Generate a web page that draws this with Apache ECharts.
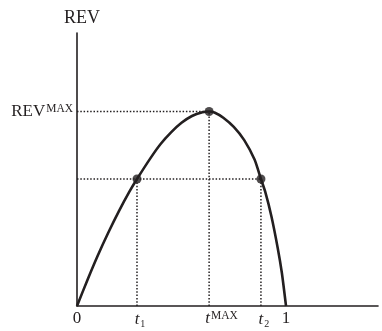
<!DOCTYPE html>
<html>
<head>
<meta charset="utf-8">
<script src="https://cdn.jsdelivr.net/npm/echarts@6/dist/echarts.min.js"></script>
<style>
  html, body { margin: 0; padding: 0; background: #fff; }
  #chart { width: 382px; height: 331px; }
</style>
</head>
<body>
<div id="chart"></div>
<script>
// Revenue curve: tax rate t (0..1) against revenue, REV^MAX scaled to 1
const curveT   = [0, 0.05, 0.10, 0.15, 0.20, 0.25, 0.287, 0.35, 0.40, 0.45, 0.50, 0.55, 0.60, 0.632,
                  0.66, 0.70, 0.75, 0.80, 0.85, 0.880, 0.90, 0.93, 0.96, 0.98, 1.0];
const curveRev = [0, 0.134, 0.261, 0.378, 0.487, 0.587, 0.653, 0.758, 0.833, 0.893, 0.942, 0.977, 0.996, 1.000,
                  0.994, 0.968, 0.921, 0.853, 0.752, 0.653, 0.589, 0.462, 0.300, 0.171, 0];

// Marked points: t1, tMAX, t2
const markT   = [0.287, 0.632, 0.880];
const markRev = [0.653, 1.000, 0.653];

// Tick positions and their labels
const xTickValues = [0, 0.287, 0.632, 0.880, 1];
const xTickLabels = ['{n|0}', '{p1|}{i|t}{sub|1}', '{pm|}{i|t}{sup|MAX}', '{p1|}{i|t}{sub|2}', '{n|1}'];
const yTickValues = [1];
const yTickLabels = ['{n|REV}{sup|MAX}'];

const ink = '#231f20';
const serif = '"Liberation Serif", "DejaVu Serif", serif';

const curveData = curveT.map((t, i) => [t, curveRev[i]]);
const pointData = markT.map((t, i) => [t, markRev[i]]);

// Guide lines: horizontal from the REV axis, vertical down to the t axis
const guideData = [];
const rightmost = {};
markT.forEach((t, i) => {
  const r = markRev[i];
  rightmost[r] = Math.max(rightmost[r] || 0, t);
});
Object.keys(rightmost).forEach(r => {
  guideData.push([0, +r], [rightmost[r], +r], null);
});
markT.forEach((t, i) => {
  guideData.push([t, 0], [t, markRev[i]], null);
});

const rich = {
  n:   { fontFamily: serif, fontSize: 17, color: ink },
  i:   { fontFamily: serif, fontSize: 17, fontStyle: 'italic', color: ink },
  sub: { fontFamily: serif, fontSize: 10, color: ink, padding: [9, 0, 0, 1] },
  sup: { fontFamily: serif, fontSize: 11.5, color: ink, padding: [0, 0, 6, 1] },
  // spacers keep the italic t centred on its tick
  p1:  { width: 6 },
  pm:  { width: 25 }
};

const chart = echarts.init(document.getElementById('chart'), null, { renderer: 'canvas' });
chart.setOption({
  animation: false,
  grid: { left: 77, right: 4, top: 33, bottom: 25, containLabel: false },
  xAxis: {
    type: 'value',
    min: 0,
    max: 1.44,
    axisLine: { show: true, lineStyle: { color: ink, width: 1.6 } },
    axisTick: { show: false },
    splitLine: { show: false },
    axisLabel: {
      customValues: xTickValues,
      formatter: v => xTickLabels[xTickValues.indexOf(v)],
      rich: rich,
      margin: 4,
      showMinLabel: true,
      showMaxLabel: true
    }
  },
  yAxis: {
    type: 'value',
    min: 0,
    max: 1.404,
    name: 'REV',
    nameLocation: 'end',
    nameGap: 6,
    nameTextStyle: { fontFamily: serif, fontSize: 18, color: ink, align: 'center', padding: [0, 0, 0, 10] },
    axisLine: { show: true, lineStyle: { color: ink, width: 1.6 } },
    axisTick: { show: false },
    splitLine: { show: false },
    axisLabel: {
      customValues: yTickValues,
      formatter: v => yTickLabels[yTickValues.indexOf(v)],
      rich: rich,
      margin: 4
    }
  },
  series: [
    {
      type: 'line',
      data: guideData,
      connectNulls: false,
      showSymbol: false,
      silent: true,
      lineStyle: { color: ink, width: 1.5, type: [1.5, 1.8] },
      z: 1
    },
    {
      type: 'line',
      data: curveData,
      smooth: 0.2,
      showSymbol: false,
      silent: true,
      lineStyle: { color: ink, width: 2.6 },
      z: 2
    },
    {
      type: 'scatter',
      data: pointData,
      symbol: 'circle',
      symbolSize: 9,
      itemStyle: { color: ink },
      silent: true,
      z: 3
    }
  ]
});
</script>
</body>
</html>
